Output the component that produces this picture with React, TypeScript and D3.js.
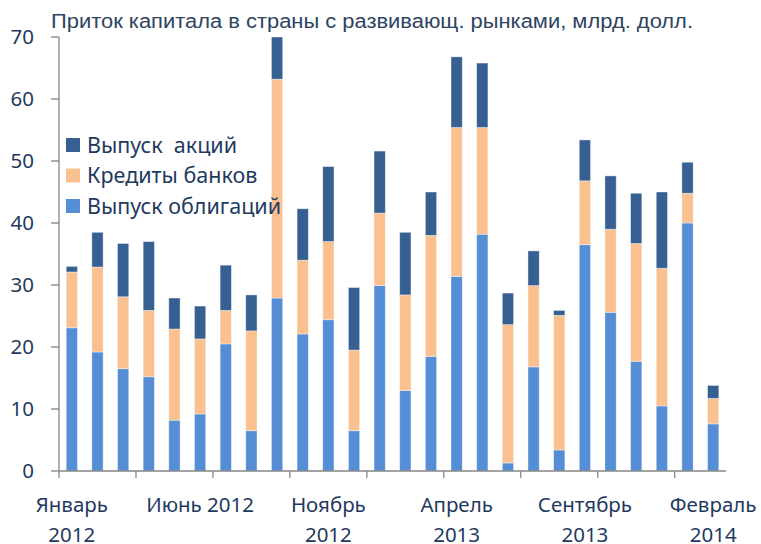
import React from 'react';
import { scaleBand, scaleLinear, stack } from 'd3';

const width = 761;
const height = 544;
const margin = { top: 37, left: 59, right: 35, bottom: 73 };

const months = [
  'Янв12', 'Фев12', 'Мар12', 'Апр12', 'Май12', 'Июн12', 'Июл12', 'Авг12', 'Сен12', 'Окт12', 'Ноя12', 'Дек12',
  'Янв13', 'Фев13', 'Мар13', 'Апр13', 'Май13', 'Июн13', 'Июл13', 'Авг13', 'Сен13', 'Окт13', 'Ноя13', 'Дек13',
  'Янв14', 'Фев14',
];
const bonds = [23.1, 19.2, 16.5, 15.2, 8.2, 9.2, 20.5, 6.5, 27.9, 22.1, 24.4, 6.5, 29.9, 13.0, 18.5, 31.4, 38.2, 1.3, 16.8, 3.4, 36.5, 25.6, 17.7, 10.5, 40.0, 7.6];
const loans = [9.0, 13.7, 11.6, 10.7, 14.7, 12.1, 5.4, 16.1, 35.3, 11.9, 12.6, 13.0, 11.7, 15.4, 19.5, 24.0, 17.2, 22.3, 13.1, 21.7, 10.3, 13.4, 19.0, 22.2, 4.8, 4.1];
const equity = [0.9, 5.6, 8.6, 11.1, 5.0, 5.3, 7.3, 5.8, 8.0, 8.3, 12.1, 10.1, 10.0, 10.1, 7.0, 11.4, 10.4, 5.1, 5.6, 0.8, 6.6, 8.6, 8.1, 12.3, 5.0, 2.1];

const seriesKeys = ['bonds', 'loans', 'equity'];
const seriesColors = { bonds: '#558ed5', loans: '#fac090', equity: '#376092' };
const legendItems = [
  { key: 'equity', label: 'Выпуск  акций' },
  { key: 'loans', label: 'Кредиты банков' },
  { key: 'bonds', label: 'Выпуск облигаций' },
];
const yTicks = [0, 10, 20, 30, 40, 50, 60, 70];
const xLabels = [
  { i: 0, lines: ['Январь', '2012'] },
  { i: 5, lines: ['Июнь 2012'] },
  { i: 10, lines: ['Ноябрь', '2012'] },
  { i: 15, lines: ['Апрель', '2013'] },
  { i: 20, lines: ['Сентябрь', '2013'] },
  { i: 25, lines: ['Февраль', '2014'] },
];
const title = 'Приток капитала в страны с развивающ. рынками, млрд. долл.';

const textColor = '#1f3a60';
const font = '"Noto Sans", sans-serif';

export default function App() {
  const innerHeight = height - margin.top - margin.bottom;
  const table = months.map((m, i) => ({ month: m, bonds: bonds[i], loans: loans[i], equity: equity[i] }));
  const layers = stack<any>().keys(seriesKeys)(table);

  const x = scaleBand().domain(months).range([margin.left, width - margin.right]).paddingInner(0.56).paddingOuter(0.28);
  const step = x.step();
  const x0 = margin.left;
  const y = scaleLinear().domain([0, 70]).range([margin.top + innerHeight, margin.top]).clamp(true);
  const base = y(0);

  const tickIdx = [];
  for (let b = 0; b <= months.length - 2; b += 3) tickIdx.push(b);

  return (
    <svg width={width} height={height} style={{ position: 'absolute', left: 0, top: 0, background: '#fff' }}>
      <text x={51} y={28} fontFamily='"Liberation Sans", Arial, sans-serif' fontSize={20} fill="#2e4461"
        textLength={642} lengthAdjust="spacingAndGlyphs">
        {title}
      </text>

      {layers.map(layer => (
        <g key={layer.key} fill={seriesColors[layer.key]}>
          {layer.map((d, i) => (
            <rect key={i} x={x(months[i])} width={x.bandwidth()} y={y(d[1])} height={y(d[0]) - y(d[1])}
              stroke="#ffffff" strokeOpacity={0.5} strokeWidth={0.8} />
          ))}
        </g>
      ))}

      {/* y axis */}
      <line x1={x0} x2={x0} y1={margin.top} y2={base} stroke="#868686" strokeWidth={1.3} />
      {yTicks.map(t => (
        <g key={t}>
          <line x1={x0 - 8} x2={x0} y1={y(t)} y2={y(t)} stroke="#868686" strokeWidth={1.3} />
          <text x={34} y={y(t)} dy="0.35em" textAnchor="end" fontFamily={font} fontSize={20.5} fill={textColor}>{t}</text>
        </g>
      ))}

      {/* x axis */}
      <line x1={x0} x2={x0 + step * months.length} y1={base} y2={base} stroke="#868686" strokeWidth={1.3} />
      {tickIdx.map(b => (
        <line key={b} x1={x0 + b * step} x2={x0 + b * step} y1={base} y2={base + 7} stroke="#868686" strokeWidth={1.3} />
      ))}
      {xLabels.map(l => (
        <text key={l.i} x={x(months[l.i]) + x.bandwidth() / 2} y={512} textAnchor="middle" fontFamily={font} fontSize={20.5} fill={textColor}>
          {l.lines.map((s, k) => (
            <tspan key={k} x={x(months[l.i]) + x.bandwidth() / 2} dy={k === 0 ? 0 : 30}>{s}</tspan>
          ))}
        </text>
      ))}

      {/* legend */}
      {legendItems.map((it, k) => (
        <g key={it.key} transform={`translate(66,${145 + k * 30.5})`}>
          <rect x={0} y={-7} width={14} height={14} fill={seriesColors[it.key]} />
          <text x={21} y={0} dy="0.35em" fontFamily={font} fontSize={21.5} fill={textColor} style={{ whiteSpace: 'pre' }}>{it.label}</text>
        </g>
      ))}
    </svg>
  );
}
